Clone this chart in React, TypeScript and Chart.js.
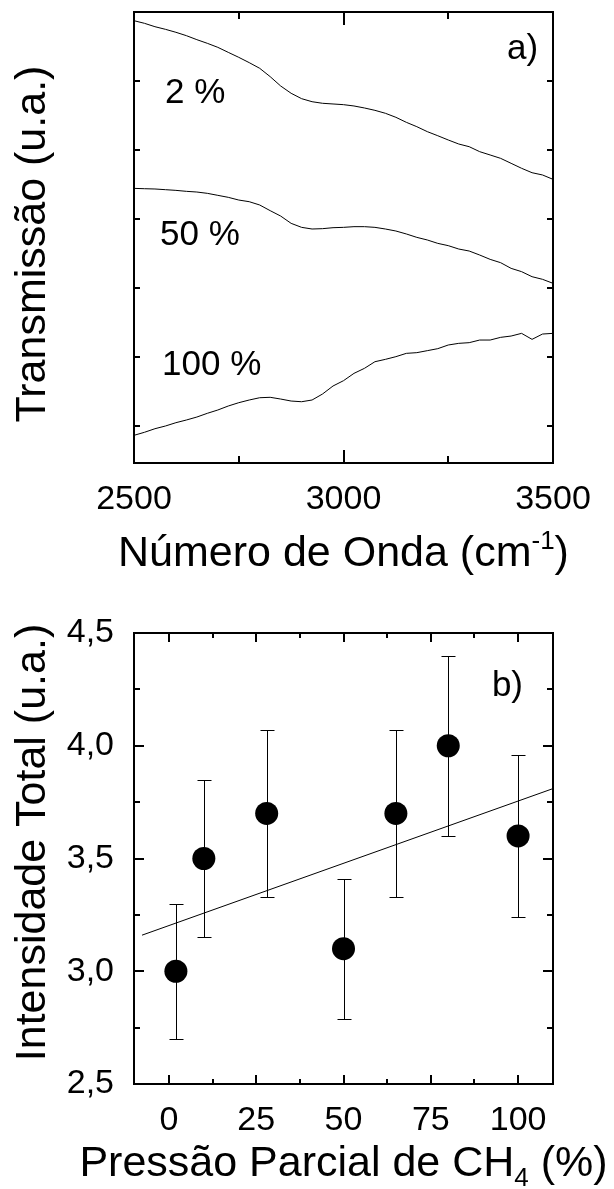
import React, { useEffect, useRef } from "react";
import { Chart, registerables } from "chart.js";

Chart.register(...registerables);

const FONT = '"Liberation Sans", Arial, Helvetica, sans-serif';

// ---------- Panel a) : IR transmission spectra ----------
const WAVENUMBER = [
  2500, 2525, 2550, 2575, 2600, 2625, 2650, 2675, 2700, 2725, 2750, 2775, 2800, 2825,
  2850, 2875, 2900, 2925, 2950, 2975, 3000, 3025, 3050, 3075, 3100, 3125, 3150, 3175,
  3200, 3225, 3250, 3275, 3300, 3325, 3350, 3375, 3400, 3425, 3450, 3475, 3500,
];
const T_2PCT = [
  5.874, 5.836, 5.787, 5.749, 5.706, 5.657, 5.599, 5.546, 5.488, 5.415, 5.343, 5.266, 5.184, 5.063,
  4.928, 4.822, 4.744, 4.7, 4.677, 4.667, 4.657, 4.638, 4.609, 4.575, 4.532, 4.474, 4.401, 4.338,
  4.266, 4.207, 4.145, 4.087, 4.048, 3.976, 3.928, 3.879, 3.807, 3.735, 3.671, 3.638, 3.575,
];
const T_50PCT = [
  3.444, 3.439, 3.435, 3.425, 3.415, 3.401, 3.391, 3.372, 3.343, 3.314, 3.275, 3.251, 3.203, 3.121,
  3.043, 2.937, 2.879, 2.855, 2.86, 2.874, 2.879, 2.889, 2.889, 2.879, 2.855, 2.826, 2.783, 2.734,
  2.696, 2.647, 2.614, 2.565, 2.536, 2.478, 2.415, 2.367, 2.285, 2.237, 2.164, 2.126, 2.068,
];
const T_100PCT = [
  -0.135, -0.091, -0.039, 0.0, 0.048, 0.087, 0.13, 0.184, 0.232, 0.29, 0.338, 0.377, 0.41, 0.416,
  0.391, 0.362, 0.352, 0.377, 0.464, 0.58, 0.657, 0.763, 0.836, 0.932, 0.966, 1.005, 1.053, 1.063,
  1.092, 1.121, 1.174, 1.198, 1.208, 1.246, 1.246, 1.285, 1.304, 1.343, 1.256, 1.333, 1.343,
];
const A_CURVE_NAMES = ["2 %", "50 %", "100 %"];
const A_X_TICKS = [2500, 2750, 3000, 3250, 3500];
const A_X_LABELS = ["2500", "", "3000", "", "3500"];
const A_X_MAJOR = [2500, 3000, 3500];
const A_Y_TICKS = [0, 1, 2, 3, 4, 5, 6];

// ---------- Panel b) : total intensity vs CH4 partial pressure ----------
const PRESSURE = [2, 10, 28, 50, 65, 80, 100];
const INTENSITY = [3.0, 3.5, 3.7, 3.1, 3.7, 4.0, 3.6];
const INTENSITY_ERR = [0.3, 0.35, 0.37, 0.31, 0.37, 0.4, 0.36];
const FIT_X = [-7.7, 110];
const FIT_Y = [3.16, 3.81];
const B_X_TICKS = [0, 12.5, 25, 37.5, 50, 62.5, 75, 87.5, 100];
const B_X_LABELS = ["0", "", "25", "", "50", "", "75", "", "100"];
const B_X_MAJOR = [0, 25, 50, 75, 100];
const B_Y_TICKS = [2.5, 2.75, 3.0, 3.25, 3.5, 3.75, 4.0, 4.25, 4.5];
const B_Y_LABELS = ["2,5", "", "3,0", "", "3,5", "", "4,0", "", "4,5"];
const B_Y_MAJOR = [2.5, 3.0, 3.5, 4.0, 4.5];

type Seg = { text: string; size: number; dy: number };
type Note = { text: string; x: number; y: number; size: number };

type DecorCfg = {
  xMajor: number[];
  yMajor: number[] | null;
  xMajorLen: number;
  xMinorLen: number;
  yMajorLen: number;
  yMinorLen: number;
  notes: Note[];
  yTitle: string;
  yTitleX: number;
  yTitleCenterY: number;
  xTitle: Seg[];
  xTitleBaseline: number;
  errors?: { x: number[]; y: number[]; e: number[]; cap: number };
};

function makeDecor(cfg: DecorCfg) {
  return {
    id: "decor",
    beforeDatasetsDraw(chart: any) {
      if (!cfg.errors) return;
      const { ctx, scales } = chart;
      const { x, y, e, cap } = cfg.errors;
      ctx.save();
      ctx.strokeStyle = "#000";
      ctx.lineWidth = 1;
      for (let i = 0; i < x.length; i++) {
        const px = Math.round(scales.x.getPixelForValue(x[i])) + 0.5;
        const pt = Math.round(scales.y.getPixelForValue(y[i] + e[i])) + 0.5;
        const pb = Math.round(scales.y.getPixelForValue(y[i] - e[i])) + 0.5;
        ctx.beginPath();
        ctx.moveTo(px, pt);
        ctx.lineTo(px, pb);
        ctx.moveTo(px - cap, pt);
        ctx.lineTo(px + cap, pt);
        ctx.moveTo(px - cap, pb);
        ctx.lineTo(px + cap, pb);
        ctx.stroke();
      }
      ctx.restore();
    },
    afterDraw(chart: any) {
      const { ctx, chartArea: ca, scales } = chart;
      ctx.save();
      ctx.strokeStyle = "#000";
      ctx.fillStyle = "#000";
      // frame
      ctx.lineWidth = 2;
      ctx.strokeRect(ca.left, ca.top, ca.right - ca.left, ca.bottom - ca.top);
      // inward ticks on all four sides
      ctx.beginPath();
      for (const t of scales.x.ticks) {
        const px = Math.round(scales.x.getPixelForValue(t.value));
        const len = cfg.xMajor.includes(t.value) ? cfg.xMajorLen : cfg.xMinorLen;
        ctx.moveTo(px, ca.bottom);
        ctx.lineTo(px, ca.bottom - len);
        ctx.moveTo(px, ca.top);
        ctx.lineTo(px, ca.top + len);
      }
      for (const t of scales.y.ticks) {
        const py = Math.round(scales.y.getPixelForValue(t.value));
        const len = !cfg.yMajor || cfg.yMajor.includes(t.value) ? cfg.yMajorLen : cfg.yMinorLen;
        ctx.moveTo(ca.left, py);
        ctx.lineTo(ca.left + len, py);
        ctx.moveTo(ca.right, py);
        ctx.lineTo(ca.right - len, py);
      }
      ctx.stroke();
      // notes inside the plot
      ctx.textAlign = "left";
      ctx.textBaseline = "alphabetic";
      for (const n of cfg.notes) {
        ctx.font = `${n.size}px ${FONT}`;
        ctx.fillText(n.text, scales.x.getPixelForValue(n.x), scales.y.getPixelForValue(n.y));
      }
      // y title (rotated)
      ctx.save();
      ctx.translate(cfg.yTitleX, cfg.yTitleCenterY);
      ctx.rotate(-Math.PI / 2);
      ctx.textAlign = "center";
      ctx.font = `43px ${FONT}`;
      ctx.fillText(cfg.yTitle, 0, 0);
      ctx.restore();
      // x title with super/subscript
      let total = 0;
      for (const s of cfg.xTitle) {
        ctx.font = `${s.size}px ${FONT}`;
        total += ctx.measureText(s.text).width;
      }
      let cx = (ca.left + ca.right) / 2 - total / 2;
      ctx.textAlign = "left";
      for (const s of cfg.xTitle) {
        ctx.font = `${s.size}px ${FONT}`;
        ctx.fillText(s.text, cx, cfg.xTitleBaseline + s.dy);
        cx += ctx.measureText(s.text).width;
      }
      ctx.restore();
    },
  };
}

function useChart(ref: React.RefObject<HTMLCanvasElement>, build: () => any) {
  useEffect(() => {
    if (!ref.current) return;
    const chart = new Chart(ref.current, build());
    return () => chart.destroy();
  }, []);
}

const tickFont = { family: FONT, size: 34 };

function PanelA() {
  const ref = useRef<HTMLCanvasElement>(null);
  useChart(ref, () => {
    const series = [T_2PCT, T_50PCT, T_100PCT];
    return {
      type: "line",
      data: {
        datasets: series.map((s, k) => ({
          label: A_CURVE_NAMES[k],
          data: WAVENUMBER.map((w, i) => ({ x: w, y: s[i] })),
          borderColor: "#000",
          borderWidth: 1,
          pointRadius: 0,
          fill: false,
          tension: 0,
        })),
      },
      options: {
        responsive: false,
        animation: false,
        events: [],
        layout: { padding: { left: 0, right: 61, top: 12, bottom: 0 }, autoPadding: false },
        plugins: { legend: { display: false }, tooltip: { enabled: false } },
        scales: {
          x: {
            type: "linear",
            position: "bottom",
            min: 2500,
            max: 3500,
            grid: { display: false },
            border: { display: false },
            afterBuildTicks: (s: any) => {
              s.ticks = A_X_TICKS.map((v) => ({ value: v }));
            },
            afterFit: (s: any) => {
              s.height = 132;
            },
            ticks: {
              color: "#000",
              font: tickFont,
              padding: 8,
              autoSkip: false,
              maxRotation: 0,
              minRotation: 0,
              callback: (_v: any, i: number) => A_X_LABELS[i],
            },
          },
          y: {
            type: "linear",
            min: -0.536,
            max: 6,
            grid: { display: false },
            border: { display: false },
            afterBuildTicks: (s: any) => {
              s.ticks = A_Y_TICKS.map((v) => ({ value: v }));
            },
            afterFit: (s: any) => {
              s.width = 134;
            },
            ticks: { display: false },
          },
        },
      },
      plugins: [
        makeDecor({
          xMajor: A_X_MAJOR,
          yMajor: null,
          xMajorLen: 13,
          xMinorLen: 7,
          yMajorLen: 6,
          yMinorLen: 6,
          notes: [
            { text: A_CURVE_NAMES[0], x: 2574, y: 4.68, size: 35 },
            { text: A_CURVE_NAMES[1], x: 2562, y: 2.62, size: 35 },
            { text: A_CURVE_NAMES[2], x: 2567, y: 0.74, size: 35 },
            { text: "a)", x: 3390, y: 5.32, size: 35 },
          ],
          yTitle: "Transmissão (u.a.)",
          yTitleX: 45,
          yTitleCenterY: 244,
          xTitle: [
            { text: "Número de Onda (cm", size: 43, dy: 0 },
            { text: "-1", size: 26, dy: -17 },
            { text: ")", size: 43, dy: 0 },
          ],
          xTitleBaseline: 566,
        }),
      ],
    };
  });
  return (
    <canvas
      ref={ref}
      width={614}
      height={595}
      style={{ position: "absolute", left: 0, top: 0, width: 614, height: 595 }}
    />
  );
}

function PanelB() {
  const ref = useRef<HTMLCanvasElement>(null);
  useChart(ref, () => ({
    type: "scatter",
    data: {
      datasets: [
        {
          type: "line",
          label: "ajuste linear",
          data: FIT_X.map((x, i) => ({ x, y: FIT_Y[i] })),
          borderColor: "#000",
          borderWidth: 1,
          pointRadius: 0,
          fill: false,
          order: 2,
        },
        {
          type: "scatter",
          label: "Intensidade",
          data: PRESSURE.map((x, i) => ({ x, y: INTENSITY[i] })),
          pointRadius: 11.5,
          pointBackgroundColor: "#000",
          pointBorderColor: "#000",
          pointBorderWidth: 0,
          order: 1,
        },
      ],
    },
    options: {
      responsive: false,
      animation: false,
      events: [],
      layout: { padding: { left: 0, right: 61, top: 38, bottom: 0 }, autoPadding: false },
      plugins: { legend: { display: false }, tooltip: { enabled: false } },
      scales: {
        x: {
          type: "linear",
          position: "bottom",
          min: -10,
          max: 110,
          grid: { display: false },
          border: { display: false },
          afterBuildTicks: (s: any) => {
            s.ticks = B_X_TICKS.map((v) => ({ value: v }));
          },
          afterFit: (s: any) => {
            s.height = 105;
          },
          ticks: {
            color: "#000",
            font: tickFont,
            padding: 8,
            autoSkip: false,
            maxRotation: 0,
            minRotation: 0,
            callback: (_v: any, i: number) => B_X_LABELS[i],
          },
        },
        y: {
          type: "linear",
          min: 2.5,
          max: 4.5,
          grid: { display: false },
          border: { display: false },
          afterBuildTicks: (s: any) => {
            s.ticks = B_Y_TICKS.map((v) => ({ value: v }));
          },
          afterFit: (s: any) => {
            s.width = 134;
          },
          ticks: {
            color: "#000",
            font: tickFont,
            padding: 12,
            autoSkip: false,
            callback: (_v: any, i: number) => B_Y_LABELS[i],
          },
        },
      },
    },
    plugins: [
      makeDecor({
        xMajor: B_X_MAJOR,
        yMajor: B_Y_MAJOR,
        xMajorLen: 9,
        xMinorLen: 5,
        yMajorLen: 10,
        yMinorLen: 6,
        notes: [{ text: "b)", x: 92.5, y: 4.22, size: 35 }],
        yTitle: "Intensidade Total (u.a.)",
        yTitleX: 45,
        yTitleCenterY: 247.5,
        xTitle: [
          { text: "Pressão Parcial de CH", size: 43, dy: 0 },
          { text: "4", size: 26, dy: 10 },
          { text: " (%)", size: 43, dy: 0 },
        ],
        xTitleBaseline: 581,
        errors: { x: PRESSURE, y: INTENSITY, e: INTENSITY_ERR, cap: 7 },
      }),
    ],
  }));
  return (
    <canvas
      ref={ref}
      width={614}
      height={594}
      style={{ position: "absolute", left: 0, top: 595, width: 614, height: 594 }}
    />
  );
}

export default function App() {
  return (
    <div
      style={{
        position: "absolute",
        left: 0,
        top: 0,
        width: 614,
        height: 1189,
        background: "#fff",
        overflow: "hidden",
      }}
    >
      <PanelA />
      <PanelB />
    </div>
  );
}
